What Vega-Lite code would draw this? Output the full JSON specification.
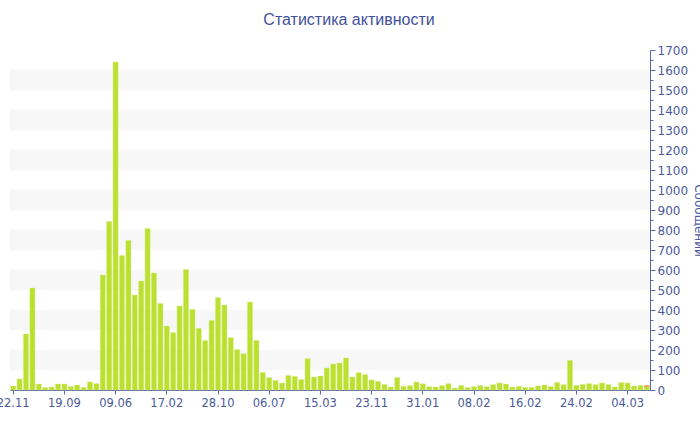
{
  "$schema": "https://vega.github.io/schema/vega-lite/v6.json",
  "width": 640,
  "height": 340,
  "autosize": {"type": "none"},
  "padding": {"left": 10, "top": 50, "right": 50, "bottom": 40},
  "background": "white",
  "title": {
    "text": "Статистика активности",
    "font": "Liberation Sans",
    "fontSize": 16,
    "fontWeight": "normal",
    "color": "#3f519c",
    "anchor": "middle",
    "dx": 19,
    "offset": 16
  },
  "config": {
    "view": {"stroke": null},
    "axis": {
      "labelFont": "DejaVu Sans",
      "labelFontSize": 11,
      "labelColor": "#4a5a9c",
      "titleFont": "DejaVu Sans",
      "titleFontSize": 12,
      "titleFontWeight": "normal",
      "titleColor": "#4a5a9c",
      "domainColor": "#5a6aa8",
      "tickColor": "#5a6aa8",
      "grid": false
    }
  },
  "datasets": {
    "bands": [
      {"lo": 100, "hi": 200}, {"lo": 300, "hi": 400}, {"lo": 500, "hi": 600},
      {"lo": 700, "hi": 800}, {"lo": 900, "hi": 1000}, {"lo": 1100, "hi": 1200},
      {"lo": 1300, "hi": 1400}, {"lo": 1500, "hi": 1600}
    ],
    "bars": [
      {"i": 1, "s": "main", "v": 20}, {"i": 2, "s": "main", "v": 55}, {"i": 3, "s": "main", "v": 280}, {"i": 4, "s": "main", "v": 510},
      {"i": 5, "s": "main", "v": 30}, {"i": 6, "s": "main", "v": 12}, {"i": 7, "s": "main", "v": 15}, {"i": 8, "s": "main", "v": 30},
      {"i": 9, "s": "main", "v": 30}, {"i": 10, "s": "main", "v": 18}, {"i": 11, "s": "main", "v": 25}, {"i": 12, "s": "main", "v": 13},
      {"i": 13, "s": "main", "v": 40}, {"i": 14, "s": "main", "v": 32}, {"i": 15, "s": "main", "v": 575}, {"i": 16, "s": "main", "v": 842},
      {"i": 17, "s": "main", "v": 1640}, {"i": 18, "s": "main", "v": 672}, {"i": 19, "s": "main", "v": 747}, {"i": 20, "s": "main", "v": 475},
      {"i": 21, "s": "main", "v": 545}, {"i": 22, "s": "main", "v": 807}, {"i": 23, "s": "main", "v": 585}, {"i": 24, "s": "main", "v": 433},
      {"i": 25, "s": "main", "v": 320}, {"i": 26, "s": "main", "v": 287}, {"i": 27, "s": "main", "v": 420}, {"i": 28, "s": "main", "v": 603},
      {"i": 29, "s": "main", "v": 403}, {"i": 30, "s": "main", "v": 308}, {"i": 31, "s": "main", "v": 247}, {"i": 32, "s": "main", "v": 348},
      {"i": 33, "s": "main", "v": 462}, {"i": 34, "s": "main", "v": 425}, {"i": 35, "s": "main", "v": 262}, {"i": 36, "s": "main", "v": 202},
      {"i": 37, "s": "main", "v": 182}, {"i": 38, "s": "main", "v": 440}, {"i": 39, "s": "main", "v": 248}, {"i": 40, "s": "main", "v": 88},
      {"i": 41, "s": "main", "v": 62}, {"i": 42, "s": "main", "v": 48}, {"i": 43, "s": "main", "v": 35}, {"i": 44, "s": "main", "v": 73},
      {"i": 45, "s": "main", "v": 68}, {"i": 46, "s": "main", "v": 52}, {"i": 47, "s": "main", "v": 157}, {"i": 48, "s": "main", "v": 65},
      {"i": 49, "s": "main", "v": 70}, {"i": 50, "s": "main", "v": 110}, {"i": 51, "s": "main", "v": 130}, {"i": 52, "s": "main", "v": 135},
      {"i": 53, "s": "main", "v": 160}, {"i": 54, "s": "main", "v": 65}, {"i": 55, "s": "main", "v": 87}, {"i": 56, "s": "main", "v": 77},
      {"i": 57, "s": "main", "v": 50}, {"i": 58, "s": "main", "v": 43}, {"i": 59, "s": "main", "v": 28}, {"i": 60, "s": "main", "v": 15},
      {"i": 61, "s": "main", "v": 62}, {"i": 62, "s": "main", "v": 18}, {"i": 63, "s": "main", "v": 22}, {"i": 64, "s": "main", "v": 40},
      {"i": 65, "s": "main", "v": 31}, {"i": 66, "s": "main", "v": 17}, {"i": 67, "s": "main", "v": 15}, {"i": 68, "s": "main", "v": 22},
      {"i": 69, "s": "main", "v": 32}, {"i": 70, "s": "main", "v": 10}, {"i": 71, "s": "main", "v": 23}, {"i": 72, "s": "main", "v": 12},
      {"i": 73, "s": "main", "v": 17}, {"i": 74, "s": "main", "v": 22}, {"i": 75, "s": "main", "v": 17}, {"i": 76, "s": "main", "v": 27},
      {"i": 77, "s": "main", "v": 35}, {"i": 78, "s": "main", "v": 30}, {"i": 79, "s": "main", "v": 15}, {"i": 80, "s": "main", "v": 18},
      {"i": 81, "s": "main", "v": 13}, {"i": 82, "s": "main", "v": 13}, {"i": 83, "s": "main", "v": 20}, {"i": 84, "s": "main", "v": 25},
      {"i": 85, "s": "main", "v": 17}, {"i": 86, "s": "main", "v": 38}, {"i": 87, "s": "main", "v": 27}, {"i": 88, "s": "main", "v": 148},
      {"i": 89, "s": "main", "v": 23}, {"i": 90, "s": "main", "v": 28}, {"i": 91, "s": "main", "v": 32}, {"i": 92, "s": "main", "v": 27},
      {"i": 93, "s": "main", "v": 35}, {"i": 94, "s": "main", "v": 27}, {"i": 95, "s": "main", "v": 15}, {"i": 96, "s": "main", "v": 37},
      {"i": 97, "s": "main", "v": 35}, {"i": 98, "s": "main", "v": 20}, {"i": 99, "s": "main", "v": 23}, {"i": 100, "s": "main", "v": 16},
      {"i": 100, "s": "other", "v": 7}
    ]
  },
  "layer": [
    {
      "data": {"name": "bands"},
      "mark": {"type": "rect", "color": "#f7f7f7"},
      "encoding": {
        "y": {
          "field": "lo",
          "type": "quantitative",
          "scale": {"domain": [0, 1700], "nice": false},
          "axis": {
            "orient": "right",
            "title": "Сообщений",
            "format": "d",
            "values": [0, 50, 100, 150, 200, 250, 300, 350, 400, 450, 500, 550, 600, 650, 700, 750, 800, 850, 900, 950, 1000, 1050, 1100, 1150, 1200, 1250, 1300, 1350, 1400, 1450, 1500, 1550, 1600, 1650, 1700],
            "labelExpr": "datum.value % 100 === 0 ? datum.label : ''",
            "tickSize": {"condition": {"test": "datum.value % 100 === 0", "value": 5}, "value": 3},
            "labelPadding": 2,
            "labelFontSize": 12,
            "labelOverlap": false,
            "titlePadding": 4
          }
        },
        "y2": {"field": "hi"}
      }
    },
    {
      "data": {"name": "bars"},
      "mark": {"type": "bar", "stroke": "#d6ee86", "strokeWidth": 0.4},
      "encoding": {
        "x": {
          "field": "i",
          "type": "ordinal",
          "sort": null,
          "scale": {"paddingInner": 0.2, "paddingOuter": 0.1},
          "axis": {
            "title": null,
            "orient": "bottom",
            "labelAngle": 0,
            "values": [1, 9, 17, 25, 33, 41, 49, 57, 65, 73, 81, 89, 97],
            "labelExpr": "['22.11','19.09','09.06','17.02','28.10','06.07','15.03','23.11','31.01','08.02','16.02','24.02','04.03'][(datum.value-1)/8]",
            "tickSize": 4,
            "labelPadding": 3,
            "labelFontSize": 11.5,
            "labelOverlap": false
          }
        },
        "y": {
          "field": "v",
          "type": "quantitative",
          "stack": "zero",
          "scale": {"domain": [0, 1700], "nice": false},
          "axis": {
            "orient": "right",
            "title": "Сообщений",
            "format": "d",
            "values": [0, 50, 100, 150, 200, 250, 300, 350, 400, 450, 500, 550, 600, 650, 700, 750, 800, 850, 900, 950, 1000, 1050, 1100, 1150, 1200, 1250, 1300, 1350, 1400, 1450, 1500, 1550, 1600, 1650, 1700],
            "labelExpr": "datum.value % 100 === 0 ? datum.label : ''",
            "tickSize": {"condition": {"test": "datum.value % 100 === 0", "value": 5}, "value": 3},
            "labelPadding": 2,
            "labelFontSize": 12,
            "labelOverlap": false,
            "titlePadding": 4
          }
        },
        "color": {
          "field": "s",
          "type": "nominal",
          "scale": {"domain": ["main", "other"], "range": ["#bbe030", "#ec5a2e"]},
          "legend": null
        },
        "order": {"field": "s", "sort": "ascending"}
      }
    }
  ]
}
